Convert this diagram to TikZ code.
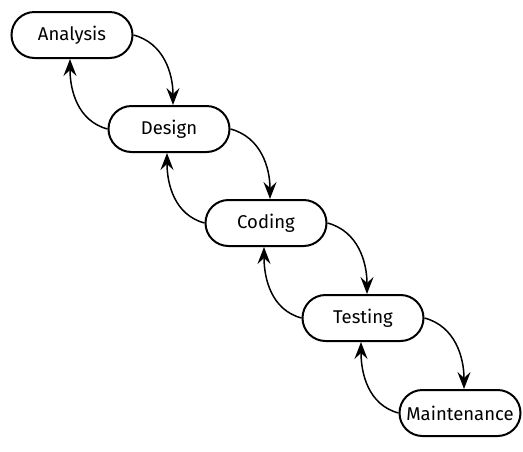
\documentclass[tikz,border=0pt]{standalone}
\usepackage{fontspec}
\setmainfont{Fira Sans}
\usetikzlibrary{arrows.meta}
\begin{document}
\begin{tikzpicture}[x=1pt,y=-1pt,
  phase/.style={draw,line width=2pt,rounded corners=23pt,minimum width=121pt,minimum height=46pt,inner sep=0pt,font=\fontsize{18.5}{22}\selectfont},
  flow/.style={line width=1.5pt,-{Stealth[length=17pt,width=13pt,inset=6pt]}}]
\useasboundingbox (0,0) rectangle (523,451);
\node[phase] (a) at (72,35) {Analysis};
\node[phase] (d) at (169,129) {Design};
\node[phase] (c) at (266,223) {Coding};
\node[phase] (t) at (363,318) {Testing};
\node[phase] (m) at (460,413) {Maintenance};
\foreach \u/\v in {a/d,d/c,c/t,t/m}{
  \draw[flow] (\u.east) to[out=-15,in=90] ([xshift=4pt]\v.north);
  \draw[flow] (\v.west) to[out=165,in=-90] ([xshift=-2pt]\u.south);
}
\end{tikzpicture}
\end{document}
